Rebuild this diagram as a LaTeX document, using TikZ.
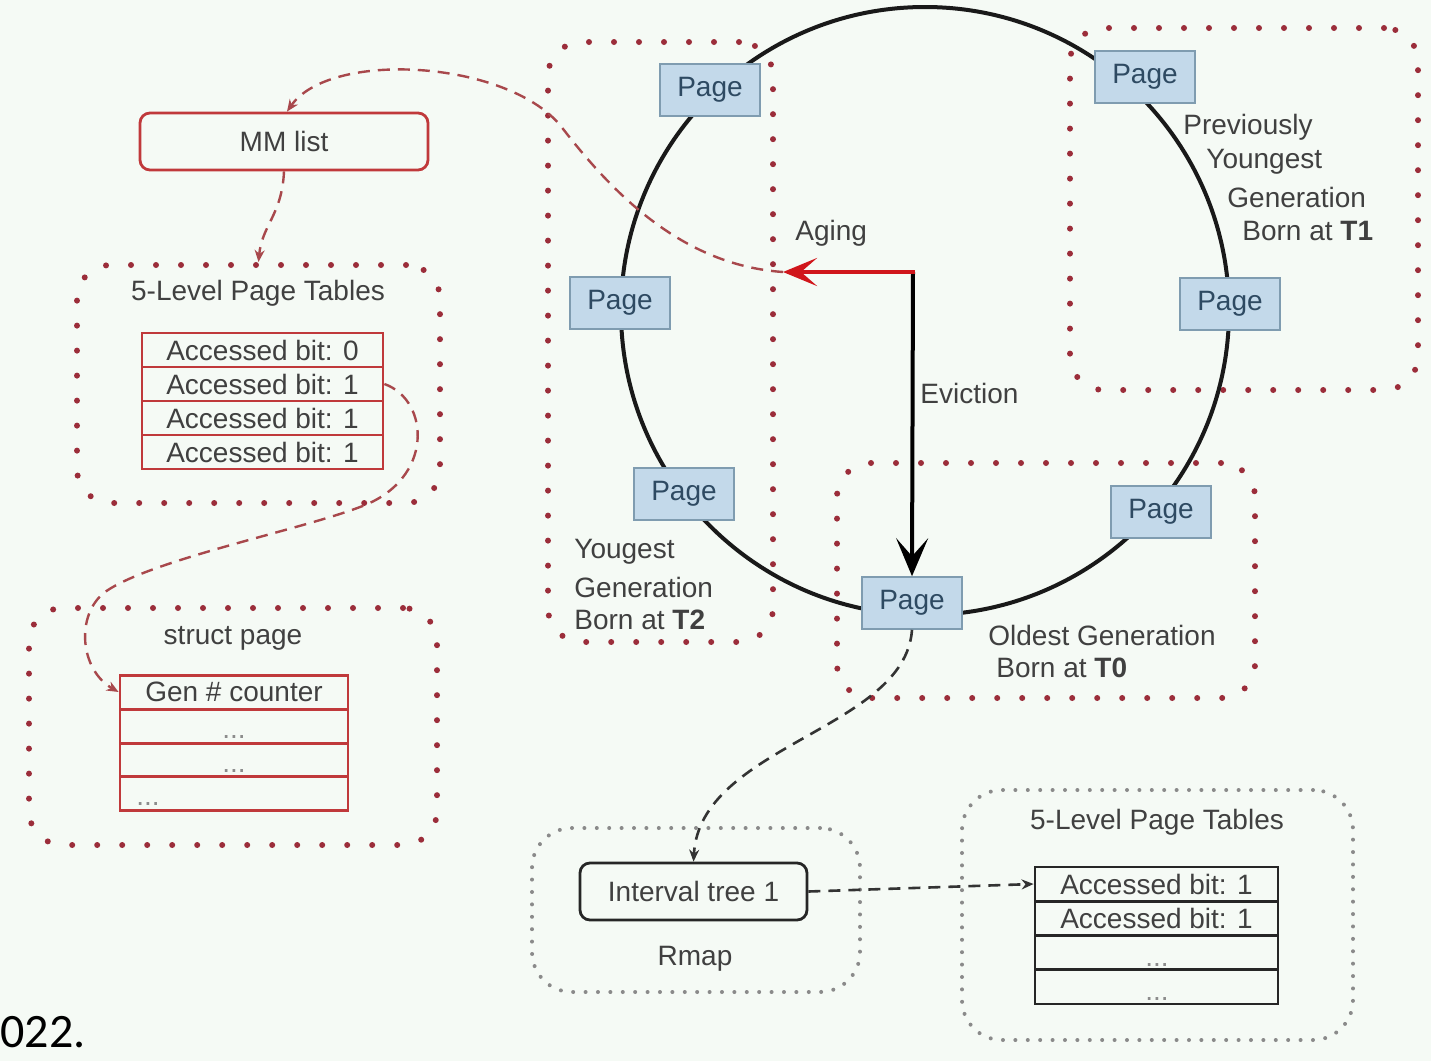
\documentclass[tikz,border=0pt]{standalone}
\usepackage{fontspec}
\setmainfont{Liberation Sans}
\newfontfamily\carl{Carlito}
\usetikzlibrary{arrows.meta}
\definecolor{bgc}{HTML}{F5FAF5}
\definecolor{dotred}{HTML}{9B2D3A}
\definecolor{dotgray}{HTML}{8A8A8A}
\definecolor{tabred}{HTML}{C0393B}
\definecolor{dashred}{HTML}{A8484C}
\definecolor{pagefill}{HTML}{C3D9EA}
\definecolor{pageborder}{HTML}{7F9CB0}
\definecolor{pagetext}{HTML}{2E4A62}
\definecolor{txt}{HTML}{404040}
\definecolor{agingred}{HTML}{D0161B}
\newcommand\lbl{\fontsize{14}{17}\selectfont}
\begin{document}
\begin{tikzpicture}[x=0.5pt,y=-0.5pt,
  pagebox/.style={draw=pageborder, fill=pagefill, line width=0.8pt, minimum width=50pt, minimum height=26pt, inner sep=0pt, font=\lbl, text=pagetext},
  reddots/.style={draw=dotred, line width=3pt, dash pattern=on 0pt off 12.5pt, line cap=round, rounded corners=17pt, inner sep=0pt},
  graydots/.style={draw=dotgray, line width=2pt, dash pattern=on 0pt off 6.2pt, line cap=round, rounded corners=20pt, inner sep=0pt},
  redrow/.style={draw=tabred, line width=1.4pt, minimum width=120.5pt, minimum height=17pt, inner sep=0pt, font=\lbl, text=txt},
  srow/.style={draw=tabred, line width=1.4pt, minimum width=114pt, minimum height=16.9pt, inner sep=0pt, font=\lbl, text=txt},
  blackrow/.style={draw=black!85, line width=1.4pt, minimum width=121.5pt, minimum height=17.1pt, inner sep=0pt, font=\lbl, text=txt},
  lbltext/.style={inner sep=0pt, font=\lbl, text=txt},
  dotstext/.style={inner sep=0pt, font=\lbl, text=black!45, anchor=base},
  reddash/.style={draw=dashred, line width=1.2pt, dash pattern=on 6pt off 4pt, -{Stealth[length=6pt,width=5pt]}},
  blackdash/.style={draw=black!80, line width=1.3pt, dash pattern=on 6pt off 4pt, -{Stealth[length=6pt,width=5pt]}}
]
\fill[bgc] (0,0) rectangle (1431,1061);

% dotted group boxes
\node[reddots, minimum width=112.5pt, minimum height=300pt] (gT2) at (660.5,342) {};
\node[reddots, minimum width=174pt, minimum height=181pt] (gT1) at (1244,209) {};
\node[reddots, minimum width=209pt, minimum height=117.5pt] (gT0) at (1046,580.5) {};
\node[reddots, minimum width=181.5pt, minimum height=119pt] (gLPT) at (258.5,384) {};
\node[reddots, minimum width=204pt, minimum height=118.5pt] (gSP) at (233,726.5) {};
\node[graydots, minimum width=164pt, minimum height=82pt] (gRmap) at (696,910) {};
\node[graydots, minimum width=195.5pt, minimum height=125pt] (gRPT) at (1157.5,915) {};

% circle
\draw[line width=2pt, black!90] (925,311) circle[radius=152pt];

% pages
\node[pagebox] (p1) at (710,90) {Page};
\node[pagebox] (p2) at (1145,77) {Page};
\node[pagebox] (p3) at (620,303) {Page};
\node[pagebox] (p4) at (1230,304) {Page};
\node[pagebox] (p5) at (684,494) {Page};
\node[pagebox] (p6) at (1161,512) {Page};
\node[pagebox] (p7) at (912,603) {Page};

% aging / eviction
\coordinate (corner) at (913,272);
\coordinate (agtip) at (783,272);
\draw[black, line width=2pt, -{Stealth[length=19pt,width=16pt,inset=9pt]}] (corner) -- (p7.north);
\draw[agingred, line width=2.4pt, -{Stealth[length=17pt,width=14pt,inset=8pt]}] ([xshift=1pt]corner) -- (agtip);
\node[lbltext, anchor=west] (aging) at (795,233) {Aging};
\node[lbltext, anchor=west] (evict) at (920,393) {Eviction};

% generation labels
\node[lbltext, anchor=west] (t1a) at (1183,127) {Previously};
\node[lbltext, anchor=west] (t1b) at (1206,162) {Youngest};
\node[lbltext, anchor=west] (t1c) at (1227,197) {Generation};
\node[lbltext, anchor=west] (t1d) at (1242,231) {Born at \textbf{T1}};
\node[lbltext, anchor=west] (t2a) at (574,552) {Yougest};
\node[lbltext, anchor=west] (t2b) at (574,587) {Generation};
\node[lbltext, anchor=west] (t2c) at (574,620) {Born at \textbf{T2}};
\node[lbltext, anchor=west] (t0a) at (988,635) {Oldest Generation};
\node[lbltext, anchor=west] (t0b) at (996,668) {Born at \textbf{T0}};

% MM list
\node[draw=tabred, line width=1.4pt, rounded corners=5pt, minimum width=144pt, minimum height=28.5pt, inner sep=0pt, font=\lbl, text=txt] (mm) at (284,141.5) {MM list};

% left page tables
\node[lbltext] (lptt) at (258,293) {5-Level Page Tables};
\node[redrow] (l1) at (262.5,350) {Accessed bit: 0};
\node[redrow] (l2) at (262.5,384) {Accessed bit: 1};
\node[redrow] (l3) at (262.5,418) {Accessed bit: 1};
\node[redrow] (l4) at (262.5,452) {Accessed bit: 1};

% struct page
\node[lbltext] (spt) at (233,638) {struct page};
\node[srow] (s1) at (234,692) {Gen \# counter};
\node[srow] (s2) at (234,726) {};
\node[srow] (s3) at (234,760) {};
\node[srow] (s4) at (234,793.5) {};
\node[dotstext] (s2d) at (234,738) {...};
\node[dotstext] (s3d) at (234,772) {...};
\node[dotstext] (s4d) at (148,805) {...};

% rmap
\node[draw=black!85, line width=1.4pt, rounded corners=5pt, minimum width=113.5pt, minimum height=28.5pt, inner sep=0pt, font=\lbl, text=txt] (it) at (693.5,891.5) {Interval tree 1};
\node[lbltext] (rmap) at (695,959) {Rmap};

% right page tables
\node[lbltext] (rptt) at (1157,822) {5-Level Page Tables};
\node[blackrow] (r1) at (1156.5,884) {Accessed bit: 1};
\node[blackrow] (r2) at (1156.5,918.3) {Accessed bit: 1};
\node[blackrow] (r3) at (1156.5,952.6) {};
\node[blackrow] (r4) at (1156.5,986.9) {};
\node[dotstext] (r3d) at (1157,966) {...};
\node[dotstext] (r4d) at (1157,1000) {...};

% dashed connectors
\draw[reddash] (agtip) .. controls (680,265) and (610,190) .. (560,125)
   .. controls (505,60) and (330,50) .. ([xshift=1.5pt]mm.north);
\draw[reddash] (mm.south) .. controls (282,215) and (262,225) .. (gLPT.north);
\draw[reddash] (l2.east) .. controls (430,400) and (435,480) .. (360,507)
   .. controls (300,530) and (150,560) .. (105,592)
   .. controls (75,615) and (80,670) .. (s1.west);
\draw[blackdash] (p7.south) .. controls (905,730) and (700,745) .. (it.north);
\draw[blackdash] (it.east) -- (r1.west);

% stray text
\node[inner sep=0pt, anchor=base west, font=\carl\fontsize{24}{28}\selectfont, text=black] (yr) at (0,1047) {022.};
\end{tikzpicture}
\end{document}
